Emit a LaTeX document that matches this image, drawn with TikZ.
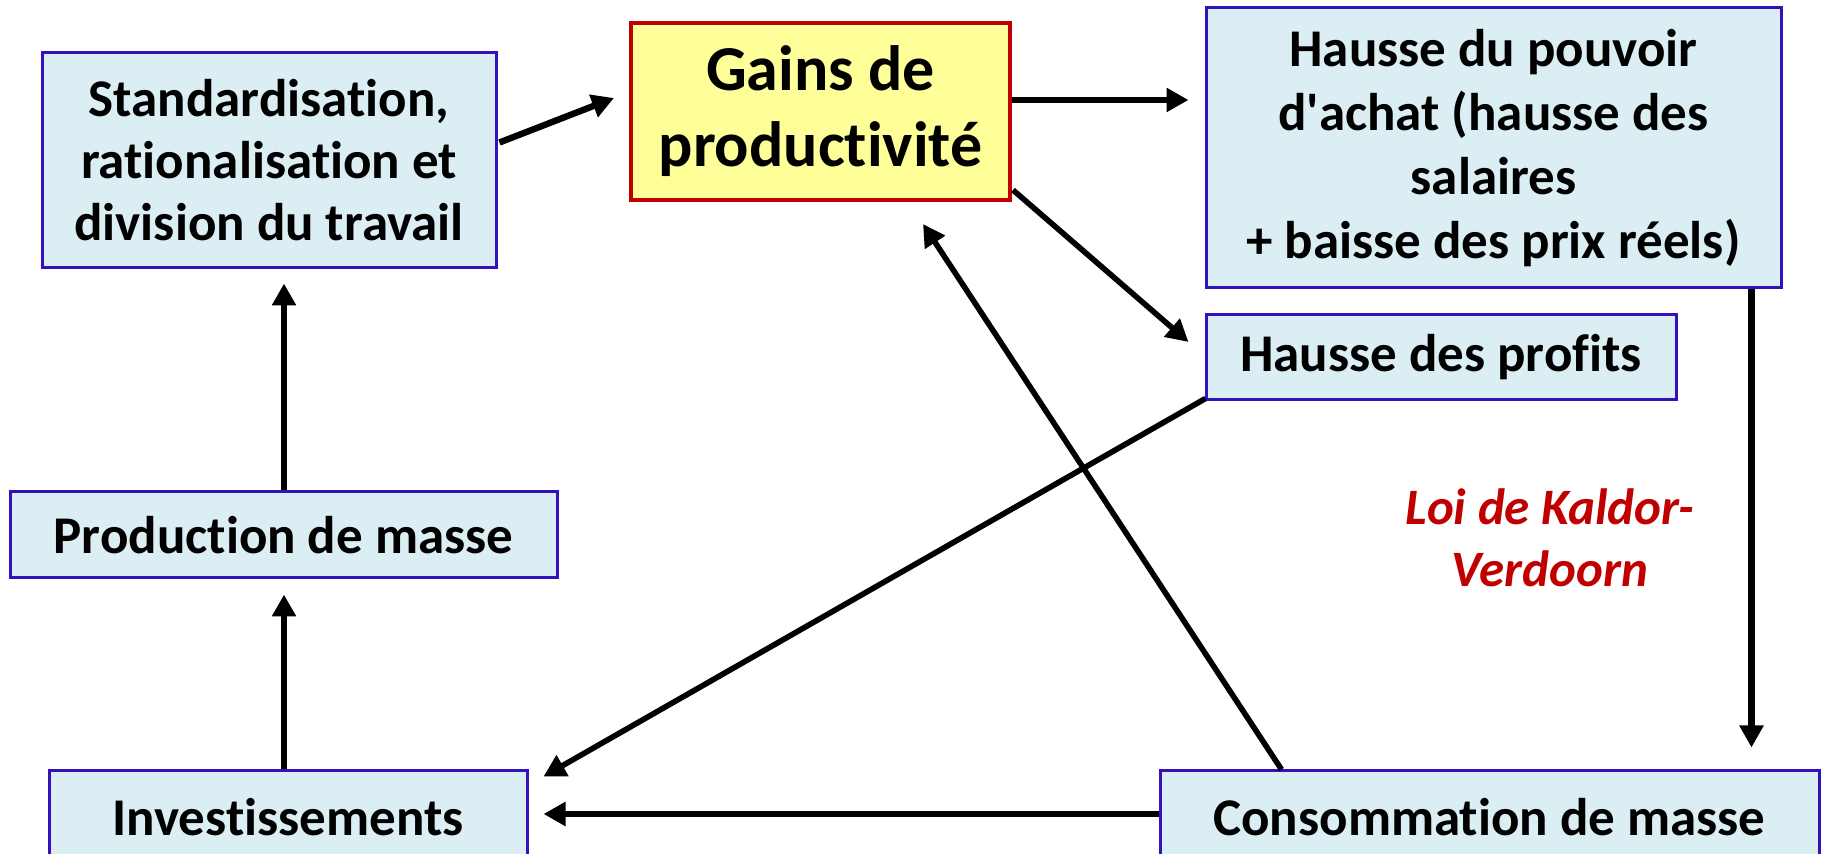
\documentclass[tikz,border=0pt]{standalone}
\usepackage{fontspec}
\setmainfont[Ligatures={TeX,NoCommon}]{Carlito}
\usetikzlibrary{arrows.meta,calc}
\definecolor{boxblue}{HTML}{3311BB}
\definecolor{boxfill}{HTML}{DAEEF3}
\definecolor{gainred}{HTML}{C00000}
\definecolor{gainfill}{HTML}{FFFF99}
\tikzset{
  bluebox/.style={draw=boxblue, line width=1.5pt, fill=boxfill, inner sep=0pt, align=center,
    font=\fontsize{26.5}{31}\selectfont\bfseries},
  gainbox/.style={draw=gainred, line width=2pt, fill=gainfill, inner sep=0pt, align=center,
    font=\fontsize{32}{38}\selectfont\bfseries},
  arr/.style={line width=3.2pt, -{Triangle[length=11pt,width=11.5pt]}},
  arrthin/.style={line width=2.8pt, -{Triangle[length=11pt,width=11.5pt]}},
  lawtext/.style={text=gainred, align=center, font=\fontsize{25.5}{31}\selectfont\bfseries\itshape}
}
\begin{document}
\begin{tikzpicture}[x=0.5pt,y=-0.5pt]
\useasboundingbox (0,0) rectangle (1822,854);
\clip (0,0) rectangle (1822,854);
\node[bluebox, minimum width=227pt, minimum height=107.5pt] (std) at (269,160.5)
  {Standardisation,\\rationalisation et\\division du travail};
\node[gainbox, minimum width=189.5pt, minimum height=88.5pt] (gains) at (820.5,111.5)
  {Gains de\\productivité};
\node[bluebox, minimum width=287.5pt, minimum height=140pt, font=\fontsize{26.5}{32}\selectfont\bfseries] (pouvoir) at (1493.5,148)
  {Hausse du pouvoir\\d\textquotesingle achat (hausse des\\salaires\\+ baisse des prix réels)};
\node[bluebox, minimum width=235pt, minimum height=42.5pt] (profits) at (1441,357.5)
  {Hausse des profits};
\node[bluebox, minimum width=273.5pt, minimum height=43pt] (prod) at (283.5,535)
  {Production de masse};
\node[bluebox, minimum width=239pt, minimum height=46pt] (invest) at (288,817)
  {Investissements};
\node[bluebox, minimum width=329.5pt, minimum height=46pt] (cons) at (1489.5,817)
  {Consommation de masse};
\node[lawtext] (loi) at (1550,538) {Loi de Kaldor-\\Verdoorn};

\draw[arr] ($(std.east)+(2,-18)$) -- ($(gains.west)+(-15,-13.5)$);
\draw[arr] ($(gains.east)+(0,-11.5)$) -- ($(pouvoir.west)+(-16,-48)$);
\draw[arrthin] ($(gains.south east)+(1,-12)$) -- ($(profits.west)+(-16,-15.5)$);
\draw[arrthin] ($(profits.south west)+(1,-3)$) -- ($(invest.north east)+(15,7)$);
\draw[arrthin] ($(cons.north west)+(123,0)$) -- ($(gains.south east)+(-89,22)$);
\draw[arr] ($(pouvoir.south east)+(-31,0)$) -- ($(cons.north east)+(-69,-22)$);
\draw[arr] ($(cons.west)+(0,-3)$) -- ($(invest.east)+(15,-3)$);
\draw[arr] ($(invest.north)+(-4,0)$) -- ($(prod.south)+(0.5,15)$);
\draw[arr] ($(prod.north)+(0.5,0)$) -- ($(std.south)+(15,14)$);
\end{tikzpicture}
\end{document}
